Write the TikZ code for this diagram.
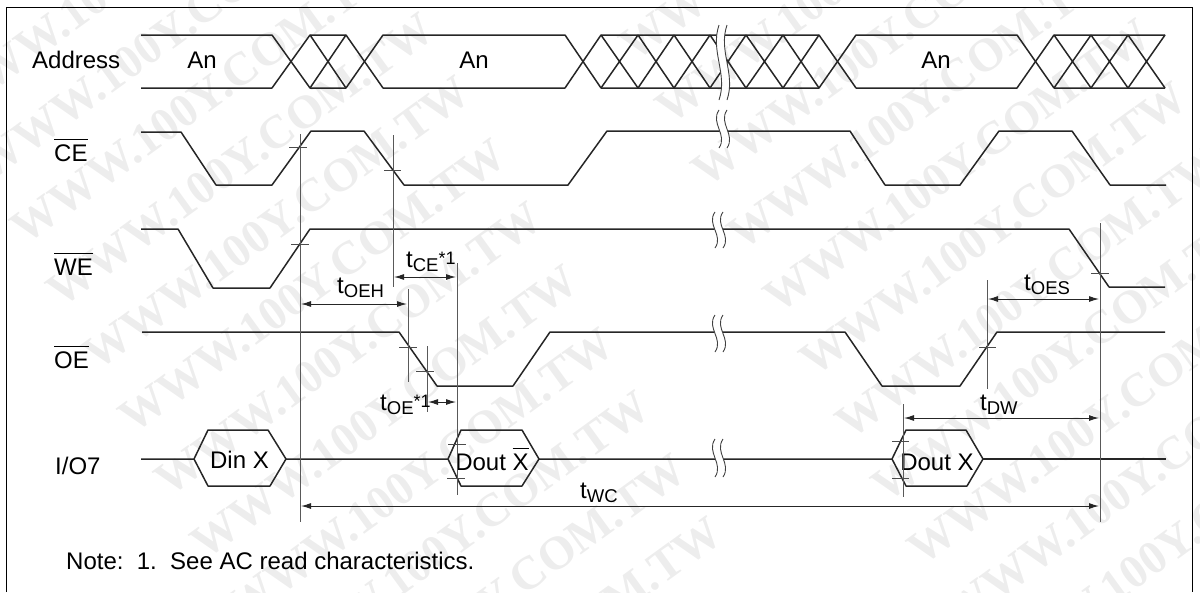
\documentclass[tikz,border=0pt]{standalone}
\usepackage{fontspec}
\setmainfont{Liberation Sans}
\newfontfamily\stampfont{Liberation Serif}
\usetikzlibrary{arrows.meta}

\newcommand{\tname}[1]{t\raisebox{-4.5pt}{\fontsize{18.5}{20}\selectfont #1}}
\newcommand{\starone}{\raisebox{3pt}{\fontsize{18}{20}\selectfont *1}}
\newcommand{\barname}[1]{$\overline{\mbox{\rule{0pt}{20pt}#1}}$}

\begin{document}
\begin{tikzpicture}[x=1pt,y=-1pt,
every node/.style={font=\fontsize{24}{26}\selectfont,inner sep=0pt},
signal/.style={line width=1.5pt,line join=round,black!85},
guide/.style={line width=1pt,black!65},
tickmark/.style={line width=0.9pt,black!70},
span/.style={line width=1pt,black!85,{Latex[length=10pt,width=6pt]}-{Latex[length=10pt,width=6pt]}},
wave/.style={line width=0.9pt,black!75},
stamp/.style={font=\stampfont\bfseries\fontsize{47}{47}\selectfont,text=black!7,rotate=36,anchor=base west}]
\useasboundingbox (0,0) rectangle (1200,592);

\foreach \i in {-8,...,12}
  \foreach \j in {-2,...,2}{
    \pgfmathtruncatemacro{\sx}{133+36*\i+501*\j}
    \pgfmathtruncatemacro{\sy}{435+63*\i-372*\j}
    \ifnum\sx>-400 \ifnum\sx<1200 \ifnum\sy>0 \ifnum\sy<860
      \node[stamp] (mark\i\j) at (\sx,\sy) {WWW.100Y.COM.TW};
    \fi\fi\fi\fi
  }

\draw[line width=0.9pt] (6,592) -- (6,7) -- (1192,7) -- (1192,592);

% row names
\node[anchor=base west] (addr) at (32,68) {Address};
\node[anchor=base west] (ce) at (54,161) {\barname{CE}};
\node[anchor=base west] (we) at (54,275) {\barname{WE}};
\node[anchor=base west] (oe) at (54,368) {\barname{OE}};
\node[anchor=base west] (io) at (55,474) {I/O7};

% address bus
\draw[signal] (141,35) -- (272,35) -- (310,88) -- (346,88) -- (383,35) -- (565,35) -- (601,88) -- (819,88) -- (856,35) -- (1017,35) -- (1054,88) -- (1165,88);
\draw[signal] (141,88) -- (272,88) -- (310,35) -- (346,35) -- (383,88) -- (565,88) -- (601,35) -- (819,35) -- (856,88) -- (1017,88) -- (1054,35) -- (1165,35);
\draw[signal] (310,35) -- (346,88) (310,88) -- (346,35);
\foreach \a/\b in {601/638,638/674,674/710,710/746,746/783,783/819,1054/1091,1091/1128,1128/1165}
  \draw[signal] (\a,35) -- (\b,88) (\a,88) -- (\b,35);
\node[anchor=base] (an1) at (202,68) {An};
\node[anchor=base] (an2) at (474,68) {An};
\node[anchor=base] (an3) at (936,68) {An};

% control lines
\draw[signal] (141,132) -- (181,132) -- (216,185) -- (272,185) -- (311,131) -- (364,131) -- (404,185) -- (568,185) -- (607,131) -- (850,131) -- (885,185) -- (960,185) -- (999,131) -- (1072,131) -- (1110,185) -- (1166,185);
\draw[signal] (141,229) -- (178,229) -- (213,288) -- (270,288) -- (310,229) -- (1069,229) -- (1109,287) -- (1165,287);
\draw[signal] (142,332) -- (399,332) -- (437,386) -- (513,386) -- (550,332) -- (845,332) -- (882,386) -- (960,386) -- (997,332) -- (1165,332);

% data line
\draw[signal] (141,459) -- (194,459) -- (208,430) -- (268,430) -- (286,459) -- (270,486) -- (208,486) -- (194,459);
\draw[signal] (286,459) -- (448,459) -- (461,430) -- (522,430) -- (539,459) -- (522,486) -- (461,486) -- (448,459);
\draw[signal] (539,459) -- (892,459) -- (906,430) -- (966,430) -- (983,459) -- (967,486) -- (906,486) -- (892,459);
\draw[signal] (983,459) -- (1166,459);
\node[anchor=base] (din) at (239.5,468) {Din X};
\node[anchor=base] (doutb) at (492,470) {Dout \barname{X}};
\node[anchor=base] (dout) at (937,470) {Dout X};

% guides
\foreach \x/\p/\q in {300/134/522,393/135/287,408/289/382,457/263/495,427/346/412,987/280/389,1100/223/522,903/404/497}
  \draw[guide] (\x,\p) -- (\x,\q);
\foreach \p/\q/\y in {289/307/147,384/401/170,291/309/244,1091/1109/273,399/417/347,416/434/371,979/996/347,448/466/444,447/465/478,892/909/441,892/909/478}
  \draw[tickmark] (\p,\y) -- (\q,\y);

% timing spans
\coordinate (ceA) at (394,277);
\coordinate (ceB) at (456,277);
\coordinate (oehA) at (301,304);
\coordinate (oehB) at (407,304);
\coordinate (oesA) at (988,299);
\coordinate (oesB) at (1099,299);
\coordinate (dwA) at (904,418);
\coordinate (dwB) at (1099,418);
\coordinate (wcA) at (301,506);
\coordinate (wcB) at (1099,506);
\coordinate (oeA) at (428,402);
\coordinate (oeB) at (456,402);
\draw[span] (ceA) -- (ceB);
\draw[span] (oehA) -- (oehB);
\draw[span] (oesA) -- (oesB);
\draw[span] (dwA) -- (dwB);
\draw[span] (wcA) -- (wcB);
\draw[span] (oeA) -- (oeB);
\node[anchor=base west] (tce) at (406,267) {\tname{CE}\starone};
\node[anchor=base west] (toeh) at (337,293) {\tname{OEH}};
\node[anchor=base west] (toes) at (1024,290) {\tname{OES}};
\node[anchor=base west] (tdw) at (980,410) {\tname{DW}};
\node[anchor=base west] (twc) at (580,498) {\tname{WC}};
\node[anchor=base west] (toe) at (380,410) {\tname{OE}\starone};

% breaks
\foreach \x/\p/\q in {719/25/100,719/110/148,715/212/248,715/315/352,715/439/477}{
  \fill[white] (\x,\p) .. controls ({\x-9},{\p+(\q-\p)*0.35}) and ({\x+9},{\p+(\q-\p)*0.65}) .. (\x,\q) -- ({\x+8},\q) .. controls ({\x+17},{\p+(\q-\p)*0.65}) and ({\x-1},{\p+(\q-\p)*0.35}) .. ({\x+8},\p) -- cycle;
  \draw[wave] (\x,\p) .. controls ({\x-9},{\p+(\q-\p)*0.35}) and ({\x+9},{\p+(\q-\p)*0.65}) .. (\x,\q);
  \draw[wave] ({\x+8},\p) .. controls ({\x-1},{\p+(\q-\p)*0.35}) and ({\x+17},{\p+(\q-\p)*0.65}) .. ({\x+8},\q);
}

\node[anchor=base west] (note) at (66,569) {Note:\ \ 1.\ \ See AC read characteristics.};
\end{tikzpicture}
\end{document}
